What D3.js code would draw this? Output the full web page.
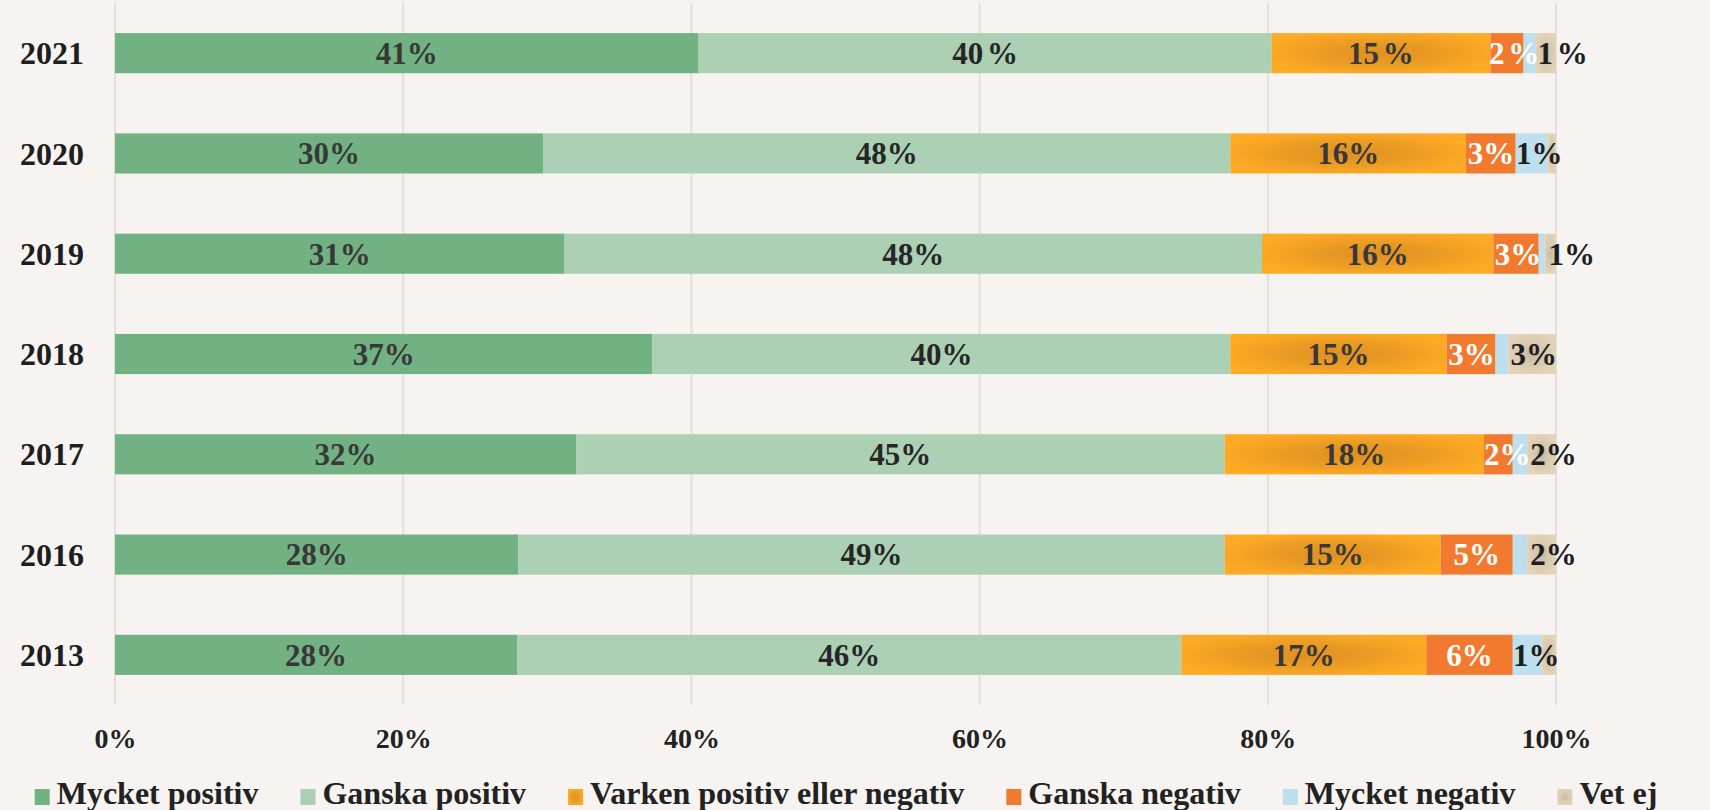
<!DOCTYPE html>
<html>
<head>
<meta charset="utf-8">
<script src="https://cdn.jsdelivr.net/npm/d3@7/dist/d3.min.js"></script>
<style>
  html, body { margin: 0; padding: 0; background: #F6F3F0; overflow: hidden; }
  svg { display: block; }
  text { font-family: "Liberation Serif", "DejaVu Serif", serif; font-weight: bold; }
</style>
</head>
<body>
<svg id="chart" width="1710" height="810"></svg>
<script>
// ---------- data ----------
const years = ["2021", "2020", "2019", "2018", "2017", "2016", "2013"];
const seriesNames = ["Mycket positiv", "Ganska positiv", "Varken positiv eller negativ", "Ganska negativ", "Mycket negativ", "Vet ej"];

const mycketPositiv = [40.5, 29.7, 31.2, 37.3, 32.0, 28.0, 27.9];
const ganskaPositiv = [39.75, 47.7, 48.4, 40.1, 45.0, 49.0, 46.1];
const varken        = [15.2, 16.35, 16.05, 15.0, 18.0, 15.0, 17.0];
const ganskaNegativ = [2.3, 3.45, 3.15, 3.4, 2.0, 5.0, 6.0];
const mycketNegativ = [0.85, 2.2, 0.4, 0.9, 1.0, 1.0, 2.0];
const vetEj         = [1.4, 0.6, 0.8, 3.3, 2.0, 2.0, 1.0];

const lblMycketPositiv = ["41%", "30%", "31%", "37%", "32%", "28%", "28%"];
const lblGanskaPositiv = ["40 %", "48%", "48%", "40%", "45%", "49%", "46%"];
const lblVarken        = ["15 %", "16%", "16%", "15%", "18%", "15%", "17%"];
const lblGanskaNegativ = ["2 %", "3%", "3%", "3%", "2%", "5%", "6%"];
const lblMycketNegativ = ["", "1%", "", "", "", "", "1%"];
const lblVetEj         = ["1 %", "", "1%", "3%", "2%", "2%", ""];

const xTicks = [0, 20, 40, 60, 80, 100];
const xTickLabels = ["0%", "20%", "40%", "60%", "80%", "100%"];

// ---------- styles ----------
const seriesValues = [mycketPositiv, ganskaPositiv, varken, ganskaNegativ, mycketNegativ, vetEj];
const seriesLabels = [lblMycketPositiv, lblGanskaPositiv, lblVarken, lblGanskaNegativ, lblMycketNegativ, lblVetEj];
const fills = ["#71B182", "#ACD0B4", "url(#gradOrange)", "#F27A2F", "#BDDFEE", "url(#gradBeige)"];
const labelColors = ["#383838", "#262626", "#383838", "#FFFFFF", "#1E1E1E", "#1E1E1E"];
const nudgeFactor = [0, 0, 0, 6, 6, 8];

const svg = d3.select("#chart");
const defs = svg.append("defs");
function radial(id, center, mid, edge) {
  const g = defs.append("radialGradient").attr("id", id)
    .attr("cx", "50%").attr("cy", "50%").attr("r", "55%");
  g.append("stop").attr("offset", "0%").attr("stop-color", center);
  g.append("stop").attr("offset", "45%").attr("stop-color", mid);
  g.append("stop").attr("offset", "100%").attr("stop-color", edge);
}
radial("gradOrange", "#E08F22", "#E99A23", "#FDAA24");
radial("gradBeige", "#C6B7A2", "#D7C8B0", "#E2D3B9");

// ---------- scales ----------
const x = d3.scaleLinear().domain([0, 100]).range([115, 1556]);
const y = d3.scaleBand().domain(years).range([3, 705]).paddingInner(0.6).paddingOuter(0.3);

// gridlines
svg.append("g").selectAll("line").data(xTicks).join("line")
  .attr("x1", d => x(d)).attr("x2", d => x(d))
  .attr("y1", 3).attr("y2", 705)
  .attr("stroke", "#E2E0DD").attr("stroke-width", 2);

// x tick labels via axis
const xAxis = svg.append("g").attr("transform", "translate(0,705)")
  .call(d3.axisBottom(x).tickValues(xTicks).tickFormat((d, i) => xTickLabels[i]).tickSize(0).tickPadding(0));
xAxis.select(".domain").remove();
xAxis.selectAll("text")
  .attr("y", 33).attr("dy", "0.35em")
  .style("font-family", "'Liberation Serif', serif")
  .style("font-weight", "bold")
  .style("font-size", "28px")
  .attr("fill", "#222");

// y labels via axis
const yAxis = svg.append("g").attr("transform", "translate(84,0)")
  .call(d3.axisLeft(y).tickSize(0).tickPadding(0));
yAxis.select(".domain").remove();
yAxis.selectAll("text")
  .attr("dy", "0.35em")
  .style("font-family", "'Liberation Serif', serif")
  .style("font-weight", "bold")
  .style("font-size", "32px")
  .attr("fill", "#1E1E1E");

// stacked data
const rows = years.map((yr, i) => {
  const o = { year: yr };
  seriesNames.forEach((s, k) => { o[s] = seriesValues[k][i]; });
  return o;
});
const stacked = d3.stack().keys(seriesNames)(rows);

const layers = svg.append("g").selectAll("g").data(stacked).join("g")
  .attr("fill", (d, k) => fills[k]);
layers.selectAll("rect").data(d => d).join("rect")
  .attr("x", d => x(d[0]))
  .attr("y", d => y(d.data.year))
  .attr("width", d => x(d[1]) - x(d[0]))
  .attr("height", y.bandwidth());

// labels
const labelG = svg.append("g");
stacked.forEach((layer, k) => {
  layer.forEach((d, i) => {
    const txt = seriesLabels[k][i];
    if (!txt) return;
    const v = d[1] - d[0];
    const nudge = Math.max(0, (3.5 - v) * nudgeFactor[k]);
    labelG.append("text")
      .attr("x", (x(d[0]) + x(d[1])) / 2 + nudge)
      .attr("y", y(d.data.year) + y.bandwidth() / 2)
      .attr("dy", "0.35em")
      .attr("text-anchor", "middle")
      .style("font-size", "31px")
      .style("word-spacing", "-4px")
      .attr("fill", labelColors[k])
      .text(txt);
  });
});

// legend
const legend = svg.append("g");
const items = legend.selectAll("g").data(seriesNames).join("g");
items.append("rect").attr("width", 15).attr("height", 16).attr("y", 789)
  .attr("fill", (d, k) => fills[k]);
items.append("text").attr("x", 22).attr("y", 804)
  .style("font-size", "32px").attr("fill", "#222").text(d => d);
let cx = 0;
const offsets = [];
items.each(function(d, k) {
  const w = 22 + this.querySelector("text").getComputedTextLength();
  offsets.push(cx);
  cx += w + 42;
});
const total = cx - 42;
const start = 846 - total / 2;
items.attr("transform", (d, k) => `translate(${start + offsets[k]},0)`);
</script>
</body>
</html>
